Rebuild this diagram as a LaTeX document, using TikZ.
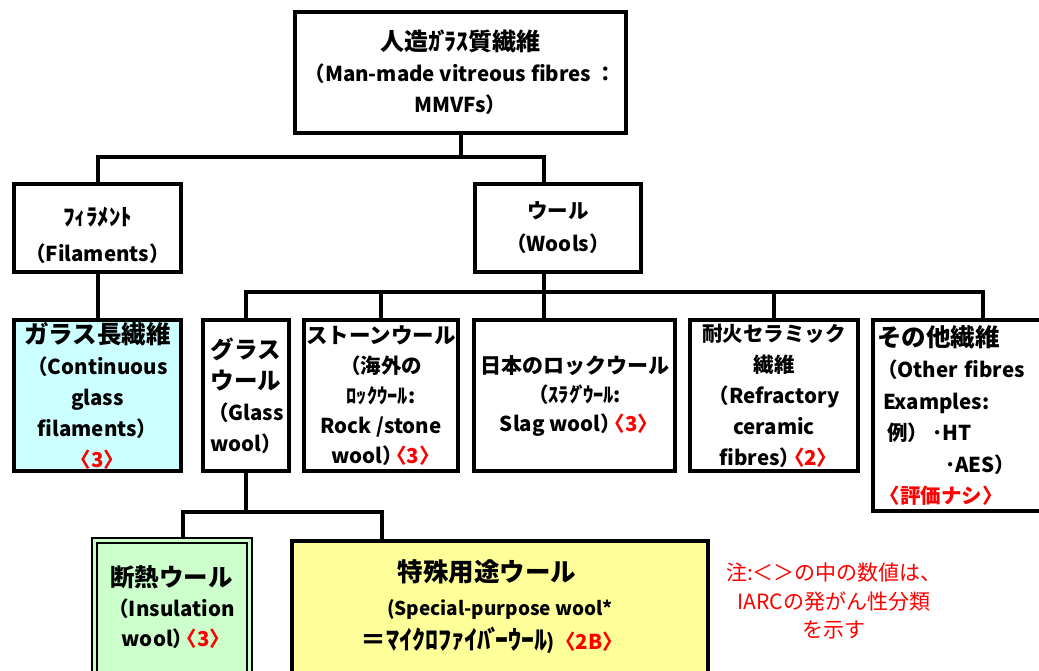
\documentclass[tikz,border=0pt]{standalone}
\usepackage{fontspec}
\setmainfont{Noto Sans CJK JP}
\definecolor{iarcred}{HTML}{FF0000}
\definecolor{cyanfill}{HTML}{CCFFFF}
\definecolor{greenfill}{HTML}{CCFFCC}
\definecolor{yellowfill}{HTML}{FFFF99}
\newcommand\J[2]{{\fontsize{#1}{#1}\selectfont #2}}
\newcommand\rb[1]{\kern-0.45em\textcolor{iarcred}{〈#1〉}\kern-0.45em}
\newcommand\cpar{）\kern-0.35em}
\newcommand\dk{\kern-0.12emﾞ\kern-0.2em}
\begin{document}
\begin{tikzpicture}[x=1pt,y=-1pt,
  bx/.style={draw=black, line width=4pt, align=center, inner sep=0pt,
    font=\bfseries\fontsize{20.5}{31}\selectfont},
  conn/.style={draw=black, line width=4pt},
  notetext/.style={align=center, inner sep=0pt, text=iarcred,
    font=\fontsize{21}{28.5}\selectfont}]
\useasboundingbox (0,0) rectangle (1039,671);
% level 1
\node[bx, minimum width=331, minimum height=121] (top) at (460.5,72.5)
  {\J{24}{人造ｶ\dk ﾗｽ質繊維}\\（Man-made vitreous fibres ：\\MMVFs）};
% level 2
\node[bx, minimum width=167, minimum height=88, font=\bfseries\fontsize{20.5}{36}\selectfont] (fil) at (97.5,228)
  {\rule{0pt}{34pt}\J{23}{ﾌｨﾗﾒﾝﾄ}\\（Filaments）};
\node[bx, minimum width=166, minimum height=88, font=\bfseries\fontsize{20.5}{33}\selectfont] (wool) at (558,228)
  {ウール\\（Wools）};
% level 3
\node[bx, fill=cyanfill, minimum width=167, minimum height=151] (gf) at (97.5,395.5)
  {\J{24.5}{ガラス長繊維}\\（Continuous\\glass\\filaments）\\\rb{3}};
\node[bx, minimum width=86, minimum height=151] (gw) at (246,395.5)
  {\J{23.5}{グラス}\\\J{23.5}{ウール}\\（Glass\\wool）};
\node[bx, minimum width=154, minimum height=151, font=\bfseries\fontsize{20.5}{30}\selectfont] (sw) at (381,395.5)
  {\J{21.5}{ストーンウール}\\（海外の\\ﾛｯｸｳｰﾙ:\\Rock /stone\\wool\cpar\rb{3}};
\node[bx, minimum width=201, minimum height=151, font=\bfseries\fontsize{20.5}{29}\selectfont] (jw) at (574.5,395.5)
  {\J{21}{日本のロックウール}\\（ｽﾗｸ\dk ｳｰﾙ:\\Slag wool\cpar\rb{3}};
\node[bx, minimum width=168, minimum height=151, font=\bfseries\fontsize{20.5}{31}\selectfont] (rc) at (774,395.5)
  {耐火セラミック\\繊維\\（Refractory\\ceramic\\fibres\cpar\rb{2}};
\node[bx, minimum width=172, minimum height=191, align=left, text width=164,
  font=\bfseries\fontsize{20.5}{31.5}\selectfont] (ot) at (959,415.5)
  {\J{24.5}{その他繊維}\\（Other fibres\\\hspace*{6pt}Examples:\\\hspace*{10pt}例）\hspace*{4pt}･HT\\\hspace*{68pt}･AES）\\\hspace*{12pt}\textcolor{iarcred}{\kern-0.45em〈評価ナシ〉}};
% level 4
\node[bx, fill=greenfill, double=greenfill, line width=2pt, double distance=3pt,
  minimum width=155, minimum height=134, font=\bfseries\fontsize{20.5}{30}\selectfont] (ins) at (171.5,607)
  {\J{24.5}{断熱ウール}\\（Insulation\\wool\cpar\rb{3}};
\node[bx, fill=yellowfill, minimum width=416, minimum height=132, font=\bfseries\fontsize{20.5}{34}\selectfont] (sp) at (500,607)
  {\J{25.5}{特殊用途ウール}\hspace*{26pt}\\{\fontsize{19}{19}\selectfont (Special-purpose wool*}\hspace*{66pt}\\\J{26}{＝ﾏｲｸﾛﾌｧｲﾊ\dk ｰｳｰﾙ})\kern0.45em\rb{2B}\hspace*{26pt}};
% note
\node[notetext] (nt) at (834,601)
  {注:＜＞の中の数値は、\\IARCの発がん性分類\\を示す};
% junctions
\coordinate (j1) at (460,157);
\coordinate (j2) at (544,292);
\coordinate (jr) at (983,292);
\coordinate (insc) at (183,512);
\coordinate (spc) at (382,512);
% connectors
\draw[conn] (top.south) -- (top.south |- j1);
\draw[conn] (fil.north) -- (fil.north |- j1) -- (j1 -| j2) -- (j2 |- wool.north);
\draw[conn] (fil.south) -- (gf.north);
\draw[conn] (j2 |- wool.south) -- (j2 |- jw.north);
\draw[conn] (gw.north) -- (gw.north |- j2) -- (jr) -- (jr |- ot.north);
\draw[conn] (sw.north) -- (sw.north |- j2);
\draw[conn] (rc.north) -- (rc.north |- j2);
\draw[conn] (gw.south) -- (gw.south |- insc);
\draw[conn] (insc |- ins.north) -- (insc) -- (spc) -- (spc |- sp.north);
\end{tikzpicture}
\end{document}
